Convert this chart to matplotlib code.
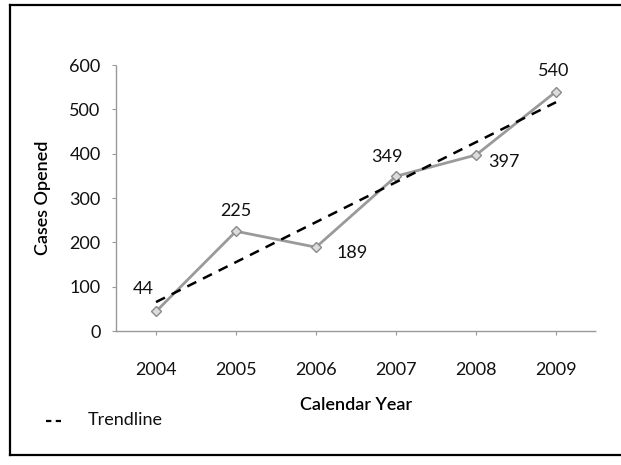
import matplotlib.pyplot as plt
import numpy as np

years = ["2004", "2005", "2006", "2007", "2008", "2009"]
cases = [44, 225, 189, 349, 397, 540]
# label offsets in pixels (dx, dy)
label_offsets = [(-13, 22), (0, 20), (36, -6), (-9, 19), (28, -7), (-2, 21)]

plt.rcParams['font.family'] = ['Lato', 'DejaVu Sans']
fs = 13

fig = plt.figure(figsize=(6.21, 4.65), dpi=100)
ax = fig.add_axes([116/621, 1 - 331/465, 480/621, 266/465])

x = np.arange(len(years))
ax.plot(x, cases, color='#9a9a9a', lw=2, marker='D', markersize=5.5,
        markerfacecolor='#dcdcdc', markeredgecolor='#8a8a8a', zorder=3)

# linear trendline
slope, icpt = np.polyfit(x, cases, 1)
ax.plot(x, slope * x + icpt, color='black', lw=1.8, ls=(0, (4, 3)), zorder=4)

for xi, yi, (dx, dy) in zip(x, cases, label_offsets):
    ax.annotate(str(yi), (xi, yi), xytext=(dx, dy), textcoords='offset pixels',
                ha='center', va='center', fontsize=fs, color='#111111')

ax.set_xlim(-0.5, len(years) - 0.5)
ax.set_ylim(0, 600)
ax.set_xticks(x)
ax.set_xticklabels(years)
ax.set_yticks(range(0, 601, 100))
ax.tick_params(axis='both', labelsize=fs, colors='#999999', labelcolor='#111111', length=3, width=0.8)
ax.tick_params(axis='x', pad=19)
ax.tick_params(axis='y', pad=8)
for s in ['top', 'right']:
    ax.spines[s].set_visible(False)
for s in ['left', 'bottom']:
    ax.spines[s].set_color('#999999')
    ax.spines[s].set_linestyle((0, (1, 1)))
    ax.spines[s].set_linewidth(1)

ax.set_ylabel("Cases Opened", fontsize=fs, fontweight='semibold', labelpad=13)
ax.set_xlabel("Calendar Year", fontsize=fs, fontweight='semibold', labelpad=14)

# legend entry for the trendline
fig.lines.append(plt.Line2D([46/621, 61/621], [1 - 421/465, 1 - 421/465], transform=fig.transFigure,
                            color='black', lw=1.6, ls=(0, (2.4, 2.0))))
fig.text(88/621, 1 - 420/465, "Trendline", fontsize=fs, va='center', ha='left', color='#111111')

# outer frame of the scanned chart (left, top, bottom; right side cut off)
left, top, bottom = 10/621, 1 - 5/465, 1 - 455/465
for xs, ys in [([left, left], [bottom, top]), ([left, 1.0], [top, top]), ([left, 1.0], [bottom, bottom])]:
    fig.lines.append(plt.Line2D(xs, ys, transform=fig.transFigure, color='black', lw=1.6))

fig.savefig("out.png", dpi=100)
